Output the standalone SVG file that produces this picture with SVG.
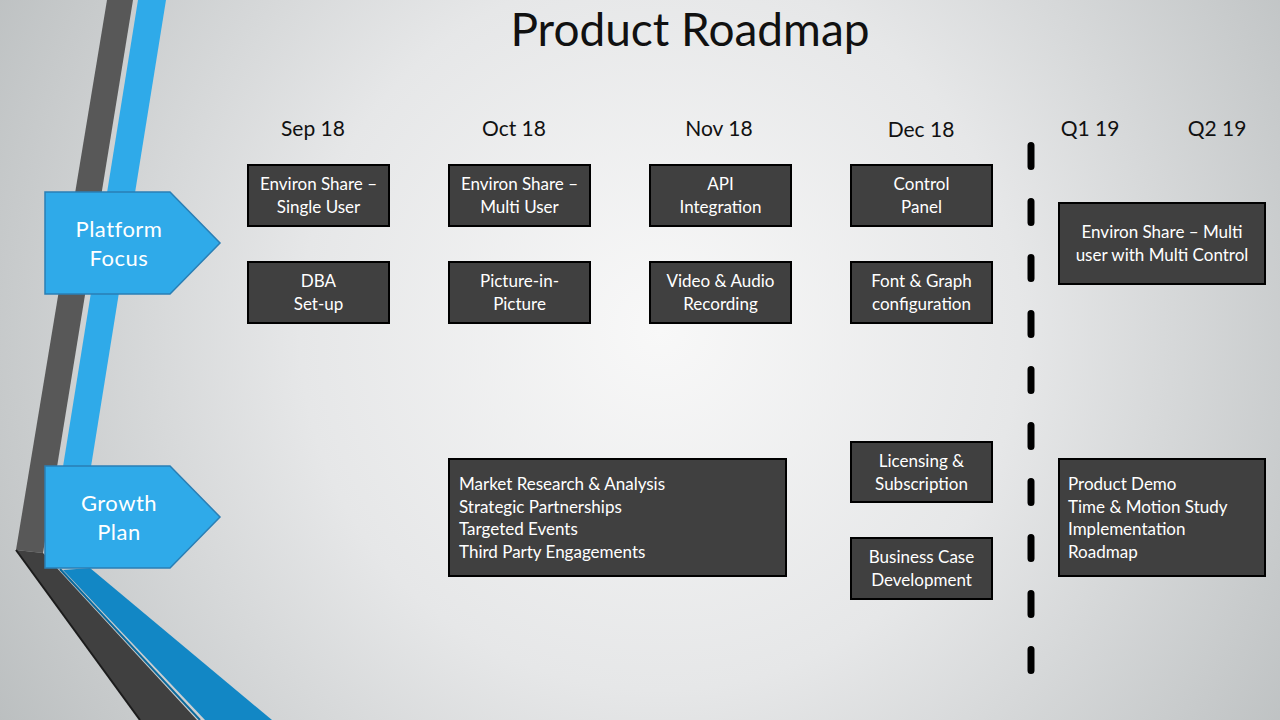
<svg xmlns="http://www.w3.org/2000/svg" width="1280" height="720" viewBox="0 0 1280 720">
  <defs>
    <radialGradient id="bg" gradientUnits="userSpaceOnUse" cx="660" cy="330" r="800">
      <stop offset="0" stop-color="#f8f8f8"/>
      <stop offset="0.45" stop-color="#e6e7e8"/>
      <stop offset="1" stop-color="#b8bcbd"/>
    </radialGradient>
    <style>
      .box { fill: #404040; stroke: #000000; stroke-width: 2; }
      .btxt { font-family: Lato, "Open Sans", sans-serif; font-size: 17px; fill: #ffffff; }
      .mid { text-anchor: middle; }
      .hdr { font-family: Lato, "Open Sans", sans-serif; font-size: 21px; fill: #111111; text-anchor: middle; }
      .tag { fill: #2faae9; stroke: #2a7fb5; stroke-width: 1.5; }
      .tagtxt { font-family: Lato, "Open Sans", sans-serif; font-size: 22px; fill: #ffffff; text-anchor: middle; letter-spacing: 0.5px; }
    </style>
  </defs>

  <!-- backdrop -->
  <rect x="0" y="0" width="1280" height="720" fill="url(#bg)"/>

  <!-- decorative ribbons on the left edge -->
  <g id="ribbons">
    <polygon points="107,0 133,0 43,553 16,550" fill="#585858"/>
    <polygon points="138,0 166,0 76,560 48,560" fill="#2faae9"/>
    <polygon points="63,570 90,568 272,720 205,720" fill="#1287c5"/>
    <line x1="60" y1="569" x2="200" y2="720" stroke="#0d6a9c" stroke-width="2"/>
    <polygon points="16,550 43,553 197,720 140,720" fill="#404040"/>
    <line x1="16" y1="550" x2="140" y2="720" stroke="#1c1c1c" stroke-width="2"/>
  </g>

  <!-- title -->
  <text x="690" y="46" font-family="Lato, 'Open Sans', sans-serif" font-size="46" fill="#111111" text-anchor="middle">Product Roadmap</text>

  <!-- period headers -->
  <g id="headers">
    <text class="hdr" x="313" y="136">Sep 18</text>
    <text class="hdr" x="514" y="136">Oct 18</text>
    <text class="hdr" x="719" y="136">Nov 18</text>
    <text class="hdr" x="921" y="137">Dec 18</text>
    <text class="hdr" x="1090" y="136">Q1 19</text>
    <text class="hdr" x="1217" y="136">Q2 19</text>
  </g>

  <!-- track labels -->
  <g id="platform-focus">
    <polygon class="tag" points="45,192 170,192 220,243 170,294 45,294"/>
    <text class="tagtxt" x="119" y="237">Platform</text>
    <text class="tagtxt" x="119" y="266">Focus</text>
  </g>
  <g id="growth-plan">
    <polygon class="tag" points="45,466 170,466 220,517 170,568 45,568"/>
    <text class="tagtxt" x="119" y="511">Growth</text>
    <text class="tagtxt" x="119" y="540">Plan</text>
  </g>

  <!-- divider between 2018 and 2019 -->
  <g id="connectors">
    <line x1="1031" y1="145.5" x2="1031" y2="672" stroke="#000000" stroke-width="7" stroke-linecap="round" stroke-dasharray="21 35"/>
  </g>

  <!-- platform items -->
  <g id="env-single">
    <rect class="box" x="248" y="165" width="141" height="61"/>
    <text class="btxt mid" x="318.5" y="190">Environ Share –</text>
    <text class="btxt mid" x="318.5" y="213">Single User</text>
  </g>
  <g id="dba-setup">
    <rect class="box" x="248" y="262" width="141" height="61"/>
    <text class="btxt mid" x="318.5" y="287">DBA</text>
    <text class="btxt mid" x="318.5" y="310">Set-up</text>
  </g>
  <g id="env-multi">
    <rect class="box" x="449" y="165" width="141" height="61"/>
    <text class="btxt mid" x="519.5" y="190">Environ Share –</text>
    <text class="btxt mid" x="519.5" y="213">Multi User</text>
  </g>
  <g id="pip">
    <rect class="box" x="449" y="262" width="141" height="61"/>
    <text class="btxt mid" x="519.5" y="287">Picture-in-</text>
    <text class="btxt mid" x="519.5" y="310">Picture</text>
  </g>
  <g id="api">
    <rect class="box" x="650" y="165" width="141" height="61"/>
    <text class="btxt mid" x="720.5" y="190">API</text>
    <text class="btxt mid" x="720.5" y="213">Integration</text>
  </g>
  <g id="recording">
    <rect class="box" x="650" y="262" width="141" height="61"/>
    <text class="btxt mid" x="720.5" y="287">Video &amp; Audio</text>
    <text class="btxt mid" x="720.5" y="310">Recording</text>
  </g>
  <g id="control-panel">
    <rect class="box" x="851" y="165" width="141" height="61"/>
    <text class="btxt mid" x="921.5" y="190">Control</text>
    <text class="btxt mid" x="921.5" y="213">Panel</text>
  </g>
  <g id="font-graph">
    <rect class="box" x="851" y="262" width="141" height="61"/>
    <text class="btxt mid" x="921.5" y="287">Font &amp; Graph</text>
    <text class="btxt mid" x="921.5" y="310">configuration</text>
  </g>
  <g id="multi-control">
    <rect class="box" x="1059" y="203" width="206" height="81"/>
    <text class="btxt mid" x="1162" y="238">Environ Share – Multi</text>
    <text class="btxt mid" x="1162" y="261">user with Multi Control</text>
  </g>

  <!-- growth items -->
  <g id="market">
    <rect class="box" x="449" y="459" width="337" height="117"/>
    <text class="btxt" x="459" y="490">Market Research &amp; Analysis</text>
    <text class="btxt" x="459" y="513">Strategic Partnerships</text>
    <text class="btxt" x="459" y="535">Targeted Events</text>
    <text class="btxt" x="459" y="558">Third Party Engagements</text>
  </g>
  <g id="licensing">
    <rect class="box" x="851" y="442" width="141" height="60"/>
    <text class="btxt mid" x="921.5" y="467">Licensing &amp;</text>
    <text class="btxt mid" x="921.5" y="490">Subscription</text>
  </g>
  <g id="business-case">
    <rect class="box" x="851" y="538" width="141" height="61"/>
    <text class="btxt mid" x="921.5" y="563">Business Case</text>
    <text class="btxt mid" x="921.5" y="586">Development</text>
  </g>
  <g id="demo">
    <rect class="box" x="1059" y="459" width="206" height="117"/>
    <text class="btxt" x="1068" y="490">Product Demo</text>
    <text class="btxt" x="1068" y="513">Time &amp; Motion Study</text>
    <text class="btxt" x="1068" y="535">Implementation</text>
    <text class="btxt" x="1068" y="558">Roadmap</text>
  </g>
</svg>
